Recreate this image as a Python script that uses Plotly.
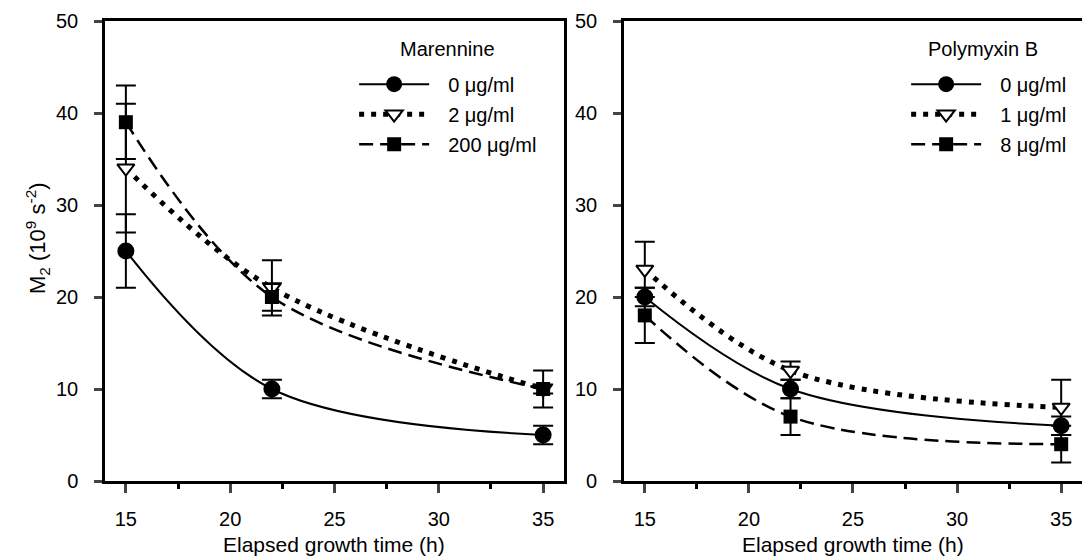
import plotly.graph_objects as go

# ---- data ----
hours = [15, 22, 35]

mar_title = "Marennine"
mar_labels = ["0 μg/ml", "2 μg/ml", "200 μg/ml"]
mar_0 = [25, 10, 5]
mar_0_err = [4, 1, 1]
mar_2 = [34, 21, 10]
mar_2_err = [7, 3, 0.5]
mar_200 = [39, 20, 10]
mar_200_err = [4, 1.5, 2]

pol_title = "Polymyxin B"
pol_labels = ["0 μg/ml", "1 μg/ml", "8 μg/ml"]
pol_0 = [20, 10, 6]
pol_0_err = [1, 1, 1]
pol_1 = [23, 12, 8]
pol_1_err = [3, 1, 3]
pol_8 = [18, 7, 4]
pol_8_err = [3, 2, 2]

x_ticks = [15, 20, 25, 30, 35]
x_minor = [17.5, 22.5, 27.5, 32.5]
y_ticks = [0, 10, 20, 30, 40, 50]

x_title = "Elapsed growth time (h)"
y_title = "M<sub>2</sub> (10<sup>9</sup> s<sup>-2</sup>)"

FONT = "Liberation Sans, Arial, sans-serif"
FS = 20

styles = [
    dict(line=dict(color="black", width=2, dash="solid", shape="spline", smoothing=1.0),
         marker=dict(symbol="circle", size=17, color="black")),
    dict(line=dict(color="black", width=5, dash="5px,7px", shape="spline", smoothing=1.0),
         marker=dict(symbol="triangle-down", size=15, color="white",
                     line=dict(color="black", width=2))),
    dict(line=dict(color="black", width=2.5, dash="14px,7px", shape="spline", smoothing=1.0),
         marker=dict(symbol="square", size=14, color="black")),
]

fig = go.Figure()

def add_series(ys, errs, label, st, xa, ya, legend, grp):
    fig.add_trace(go.Scatter(
        x=hours, y=ys, name="\u2002\u2009" + label, mode="lines+markers",
        error_y=dict(type="data", array=errs, visible=True, color="black",
                     thickness=2, width=10),
        line=st["line"], marker=st["marker"],
        xaxis=xa, yaxis=ya, legend=legend, legendgroup=grp,
    ))

for i, (ys, errs) in enumerate([(mar_0, mar_0_err), (mar_2, mar_2_err), (mar_200, mar_200_err)]):
    add_series(ys, errs, mar_labels[i], styles[i], "x", "y", "legend", "m%d" % i)
for i, (ys, errs) in enumerate([(pol_0, pol_0_err), (pol_1, pol_1_err), (pol_8, pol_8_err)]):
    add_series(ys, errs, pol_labels[i], styles[i], "x2", "y2", "legend2", "p%d" % i)

xcommon = dict(range=[14, 36], tickvals=x_ticks, ticks="outside", ticklen=9, tickwidth=2.5,
               showline=True, linewidth=2.5, linecolor="black", showgrid=False, zeroline=False,
               tickfont=dict(family=FONT, size=FS, color="black"),
               minor=dict(tickvals=x_minor, ticks="outside", ticklen=5,
                          tickwidth=2.5, tickcolor="black"),
               ticklabelstandoff=9, mirror=True)
ycommon = dict(range=[0, 50], tickvals=y_ticks, ticks="outside", ticklen=8, tickwidth=2.5,
               showline=True, linewidth=2.5, linecolor="black", showgrid=False, zeroline=False,
               tickfont=dict(family=FONT, size=FS, color="black"), ticklabelstandoff=12)

legcommon = dict(font=dict(family=FONT, size=FS, color="black"), bgcolor="rgba(0,0,0,0)",
                 itemwidth=70, tracegroupgap=1, traceorder="grouped",
                 xanchor="left", yanchor="top", itemclick=False)

dom1 = [0, 0.4698]
dom2 = [0.5312, 1]

fig.update_layout(
    width=1082, height=556,
    margin=dict(l=105, r=0, t=21, b=75),
    paper_bgcolor="white", plot_bgcolor="white",
    xaxis=dict(domain=dom1, anchor="y", **xcommon),
    yaxis=dict(domain=[0, 1], anchor="x", mirror=True, **ycommon),
    xaxis2=dict(domain=dom2, anchor="y2", **xcommon),
    yaxis2=dict(domain=[0, 1], anchor="x2", mirror=False, **ycommon),
    legend=dict(x=0.255, y=0.905, **legcommon),
    legend2=dict(x=0.82, y=0.905, **legcommon),
    showlegend=True,
)

tfont = dict(family=FONT, size=21, color="black")
annots = [
    dict(text=x_title, xref="paper", yref="paper", x=sum(dom1) / 2, y=0,
         xanchor="center", yanchor="middle", yshift=-63, showarrow=False, font=tfont),
    dict(text=x_title, xref="paper", yref="paper", x=sum(dom2) / 2, y=0,
         xanchor="center", yanchor="middle", yshift=-63, showarrow=False, font=tfont),
    dict(text=y_title, xref="paper", yref="paper", x=0, y=0.5, textangle=-90,
         xanchor="center", yanchor="middle", xshift=-68, yshift=13, showarrow=False,
         font=dict(family=FONT, size=22, color="black")),
    dict(text=mar_title, xref="paper", yref="paper", x=(447 - 105) / 977, y=(481 - 49) / 460,
         xanchor="center", yanchor="middle", showarrow=False, font=dict(family=FONT, size=FS, color="black")),
    dict(text=pol_title, xref="paper", yref="paper", x=(983 - 105) / 977, y=(481 - 49) / 460,
         xanchor="center", yanchor="middle", showarrow=False, font=dict(family=FONT, size=FS, color="black")),
]
fig.update_layout(annotations=annots)

fig.write_html("out.html", config={"displayModeBar": False},
               post_script="document.body.style.margin='0';document.body.style.padding='0';")
